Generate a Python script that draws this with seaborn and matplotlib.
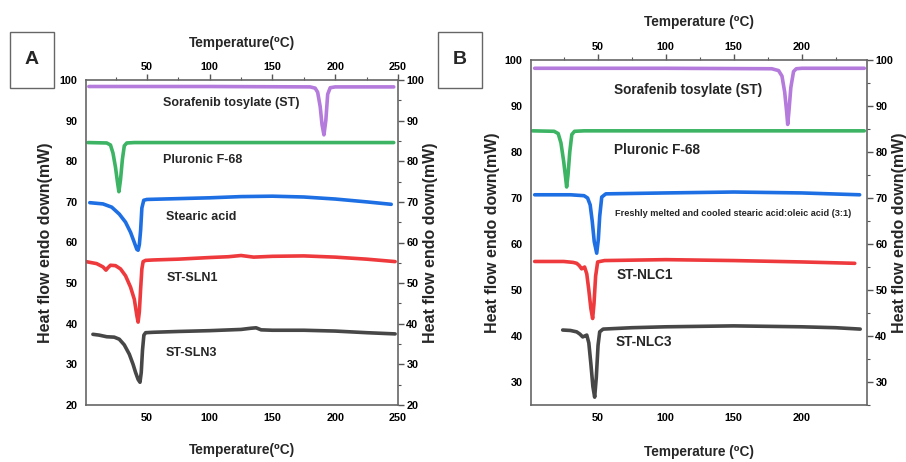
import matplotlib
matplotlib.use("Agg")
import matplotlib.pyplot as plt
import seaborn as sns
from matplotlib.patches import Rectangle
from matplotlib.ticker import MultipleLocator

sns.set_theme(style="white")
FAM = ["Liberation Sans Narrow", "Liberation Sans", "DejaVu Sans"]
FAM2 = ["Liberation Sans", "DejaVu Sans"]
plt.rcParams["font.family"] = FAM

# ---------------- Panel A data ----------------
a_st_x = [3.8, 100, 180, 184, 186, 188, 189.5, 191, 192.5, 194, 196, 200, 246.6]
a_st_y = [98.4, 98.4, 98.3, 98.0, 97.0, 93.5, 89, 86.5, 90, 96.5, 98.1, 98.3, 98.3]
a_pl_x = [3, 18, 21, 23, 25, 26.5, 27.7, 29, 30.5, 32, 34, 40, 246.6]
a_pl_y = [84.6, 84.5, 84.0, 82.0, 78.5, 75, 72.5, 75.5, 80.5, 83.8, 84.5, 84.6, 84.6]
a_sa_x = [4.5, 15, 22, 28, 33, 37, 40, 42, 43, 44, 45, 46, 47.5, 50, 75, 100, 125, 150, 175, 200, 225, 244.6]
a_sa_y = [69.8, 69.5, 68.7, 67.0, 65.0, 62.5, 60, 58.3, 58.1, 59.5, 63, 68.5, 70.4, 70.6, 70.8, 71.0, 71.3, 71.4, 71.2, 70.7, 70.0, 69.4]
a_s1_x = [1.4, 10, 15, 17.4, 19, 21, 25, 29, 33, 37, 40, 42, 43, 44, 45, 46, 47, 49, 55, 75, 100, 115, 125, 135, 150, 175, 200, 225, 247.7]
a_s1_y = [55.3, 54.8, 54.0, 53.2, 53.8, 54.4, 54.3, 53.5, 51.8, 49, 46, 42, 40.4, 43, 48.5, 53.5, 55.3, 55.6, 55.7, 55.9, 56.3, 56.5, 56.8, 56.4, 56.6, 56.7, 56.4, 55.9, 55.3]
a_s3_x = [7, 12, 18, 24, 28, 32, 36, 39, 41, 43, 44.5, 45.5, 46.5, 47.6, 49, 55, 75, 100, 125, 133, 137, 141, 150, 175, 200, 225, 247.7]
a_s3_y = [37.4, 37.2, 36.8, 36.7, 36.2, 34.8, 32.5, 30, 28, 26.3, 25.6, 28, 33.5, 37.2, 37.8, 37.9, 38.1, 38.3, 38.6, 38.9, 39.0, 38.5, 38.4, 38.4, 38.2, 37.8, 37.5]
a_labels = ["Sorafenib tosylate (ST)", "Pluronic F-68", "Stearic acid", "ST-SLN1", "ST-SLN3"]
a_label_x = [63, 63, 65, 66, 65]
a_label_y = [94.3, 80.3, 66.3, 51.2, 32.8]
a_xticks = [50, 100, 150, 200, 250]
a_yticks = [20, 30, 40, 50, 60, 70, 80, 90, 100]

# ---------------- Panel B data ----------------
b_st_x = [3.7, 100, 178, 183, 185.5, 187.5, 189, 189.7, 190.5, 192, 194, 196, 200, 246]
b_st_y = [98.2, 98.2, 98.1, 97.7, 96.5, 93, 88.5, 86, 88.5, 94, 97.5, 98.1, 98.2, 98.2]
b_pl_x = [2.2, 18, 21, 23, 25, 26.2, 27.2, 28.2, 29.5, 31, 33, 40, 246]
b_pl_y = [84.6, 84.5, 84, 82, 78, 75, 72.4, 75, 80, 83.8, 84.5, 84.6, 84.6]
b_sa_x = [3.7, 30, 40, 42.6, 44.5, 46, 47.5, 49.3, 50.5, 51.5, 53, 56, 100, 150, 200, 242.6]
b_sa_y = [70.7, 70.7, 70.5, 70.0, 68.5, 65, 60.5, 58, 61, 66, 70.2, 70.9, 71.1, 71.3, 71.1, 70.7]
b_n1_x = [3.7, 25, 32, 34.6, 36.5, 38.2, 39.5, 40.4, 42, 43.5, 45, 46.3, 47.3, 48.5, 50, 55, 100, 150, 200, 239]
b_n1_y = [56.2, 56.2, 56.0, 55.8, 55.3, 54.6, 54.8, 55.0, 53.5, 50, 46, 43.8, 47, 53, 56.1, 56.4, 56.6, 56.4, 56.1, 55.8]
b_n3_x = [24.3, 30, 34.6, 37, 39, 40.5, 42, 43.5, 45, 46.5, 47.8, 49, 50.3, 51.5, 54, 75, 100, 150, 200, 225, 243]
b_n3_y = [41.3, 41.2, 40.9, 40.4, 39.8, 40.0, 40.2, 38.5, 34, 29, 26.7, 31, 38, 40.9, 41.5, 41.8, 42.0, 42.2, 42.0, 41.8, 41.5]
b_labels = ["Sorafenib tosylate (ST)", "Pluronic F-68",
            "Freshly melted and cooled stearic acid:oleic acid (3:1)", "ST-NLC1", "ST-NLC3"]
b_label_x = [61.8, 61.8, 63, 64, 63]
b_label_y = [93.5, 80.4, 66.7, 53.3, 38.7]
b_xticks = [50, 100, 150, 200]
b_yticks = [30, 40, 50, 60, 70, 80, 90, 100]

colors = ["#b47adc", "#3cb464", "#1d6fe3", "#ee3a3d", "#474747"]

fig = plt.figure(figsize=(9.06, 4.62), dpi=100)
axA = fig.add_axes([86 / 906, 57 / 462, 312 / 906, 325 / 462])
axB = fig.add_axes([531 / 906, 57 / 462, 336 / 906, 345 / 462])

ylab = "Heat flow endo down(mW)"


def style(ax, xlim, ylim, xticks, yticks, xlab, lpos):
    ax.set_xlim(*xlim)
    ax.set_ylim(*ylim)
    ax.set_xticks(xticks)
    ax.set_yticks(yticks)
    ax.xaxis.set_minor_locator(MultipleLocator(25))
    ax.yaxis.set_minor_locator(MultipleLocator(5))
    ax.tick_params(which="both", direction="out", top=True, right=True,
                   labeltop=True, labelright=True, colors="#555555",
                   labelcolor="black", labelsize=7.8, pad=2)
    ax.tick_params(which="major", length=4, width=1)
    ax.tick_params(which="minor", length=2.5, width=0.8)
    for lab in ax.get_xticklabels() + ax.get_yticklabels():
        lab.set_fontweight("bold")
    for s in ax.spines.values():
        s.set_color("#666666")
        s.set_linewidth(1.2)
    ax.grid(False)
    lx, rx, ty, by = lpos
    ax.set_xlabel(xlab, fontsize=9.8, fontweight="bold", family=FAM)
    ax.xaxis.label.set_va("center")
    ax.xaxis.set_label_coords(0.5, by)
    ax.set_ylabel(ylab, fontsize=11.5, fontweight="bold", family=FAM2)
    ax.yaxis.label.set_va("center")
    ax.yaxis.set_label_coords(lx, 0.5)
    ax.text(0.5, ty, xlab, transform=ax.transAxes, ha="center", va="center",
            fontsize=9.8, fontweight="bold", family=FAM)
    ax.text(rx, 0.5, ylab, transform=ax.transAxes, ha="center", va="center",
            rotation=90, fontsize=11.5, fontweight="bold", family=FAM2)


a_series = [(a_st_x, a_st_y), (a_pl_x, a_pl_y), (a_sa_x, a_sa_y), (a_s1_x, a_s1_y), (a_s3_x, a_s3_y)]
b_series = [(b_st_x, b_st_y), (b_pl_x, b_pl_y), (b_sa_x, b_sa_y), (b_n1_x, b_n1_y), (b_n3_x, b_n3_y)]

for (x, y), c in zip(a_series, colors):
    sns.lineplot(x=x, y=y, ax=axA, color=c, linewidth=2.6, estimator=None, sort=False)
for (x, y), c in zip(b_series, colors):
    sns.lineplot(x=x, y=y, ax=axB, color=c, linewidth=2.6, estimator=None, sort=False)

for t, x, y in zip(a_labels, a_label_x, a_label_y):
    axA.text(x, y, t, fontsize=9, fontweight="bold", ha="left", va="center", family=FAM)
for i, (t, x, y) in enumerate(zip(b_labels, b_label_x, b_label_y)):
    fs = 6.6 if i == 2 else 9.8
    axB.text(x, y, t, fontsize=fs, fontweight="bold", ha="left", va="center", family=FAM)

style(axA, (1.5, 250), (20, 100), a_xticks, a_yticks, "Temperature(\u2070C)",
      (-0.131, 1.103, 1.114, -0.138))
style(axB, (1, 248), (25, 100), b_xticks, b_yticks, "Temperature (\u2070C)",
      (-0.116, 1.098, 1.110, -0.136))

# panel letter boxes
for (x0, letter) in [(10, "A"), (438, "B")]:
    fig.patches.append(Rectangle((x0 / 906, (462 - 88) / 462), 44 / 906, 56 / 462,
                                 transform=fig.transFigure, fill=False,
                                 edgecolor="#666666", linewidth=1))
    fig.text((x0 + 22) / 906, (462 - 60) / 462, letter, ha="center", va="center",
             fontsize=14, fontweight="bold", family=FAM2)

fig.savefig("out.png", dpi=100)
